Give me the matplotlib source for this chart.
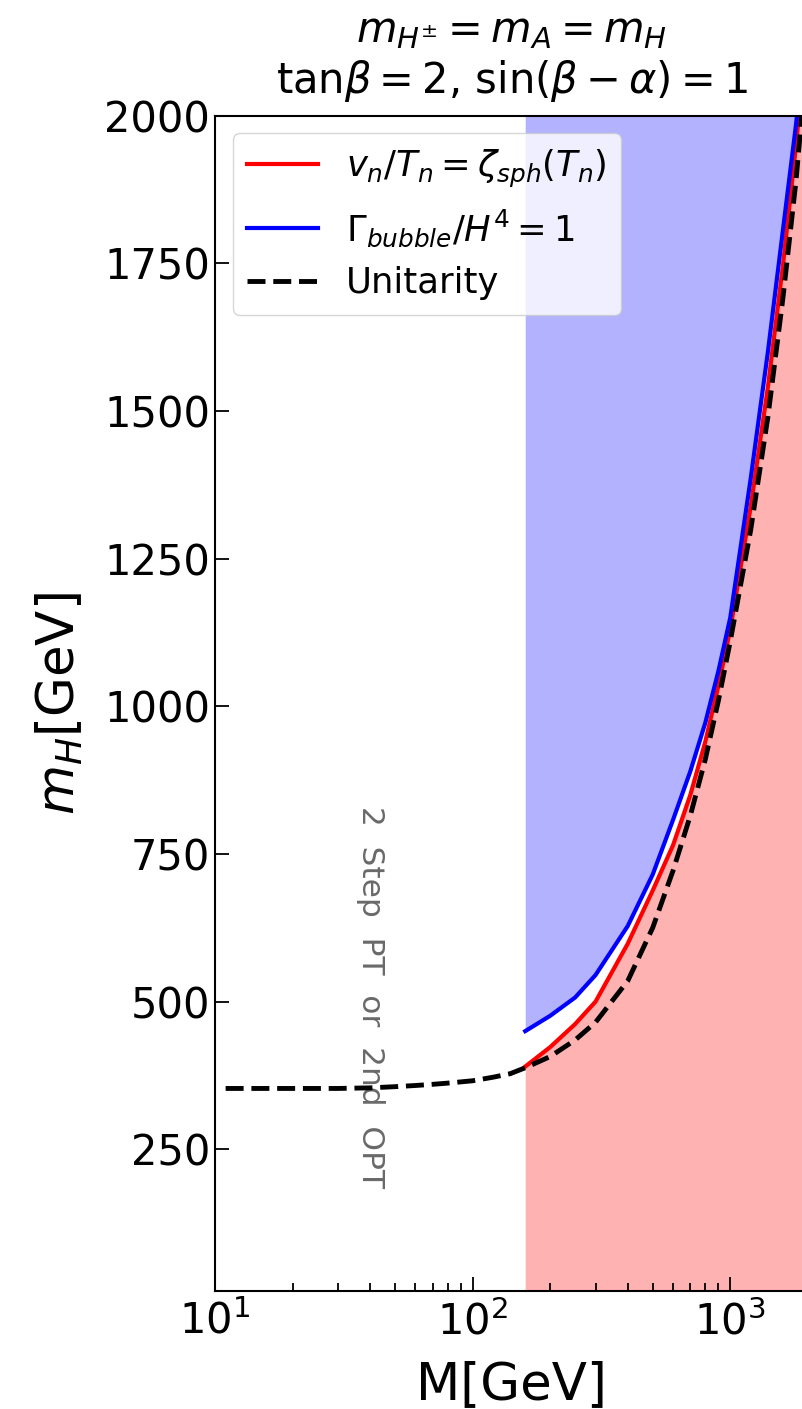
import numpy as np
import matplotlib.pyplot as plt

# M grid where the phase-transition scan was done
M_scan = [160, 200, 250, 300, 400, 500, 600, 700, 800, 900, 1000, 1200, 1400, 1600, 1800, 2000]
# m_H where v_n/T_n = zeta_sph(T_n)
mH_sph = [390, 423, 462, 500, 598, 688, 765, 850, 940, 1035, 1130, 1337, 1541, 1745, 1950, 2155]
# m_H where Gamma_bubble/H^4 = 1
mH_bubble = [450, 476, 507, 545, 628, 715, 808, 890, 972, 1060, 1150, 1385, 1600, 1805, 1985, 2170]

# unitarity bound
M_uni = [11, 20, 30, 40, 50, 60, 70, 80, 100, 120, 140, 160, 200, 250, 300, 400, 500, 600, 700, 800, 900, 1000, 1200, 1400, 1600, 1800, 2000]
mH_uni = [353, 353, 353, 354, 356, 358, 360, 362, 366, 372, 378, 388, 407, 435, 465, 535, 625, 722, 815, 910, 1010, 1110, 1298, 1490, 1690, 1890, 2115]

x_min, x_max = 10, 2000
y_min, y_max = 10, 2000

fig = plt.figure(figsize=(8.03, 14.09), dpi=100)
ax = fig.add_axes([0.2677, 0.0837, 1.006 - 0.2677, 0.918 - 0.0837])

ax.fill_between(M_scan, y_min - 10, mH_sph, color='red', alpha=0.3, linewidth=0)
ax.fill_between(M_scan, mH_bubble, y_max + 10, color='blue', alpha=0.3, linewidth=0)

ax.plot(M_scan, mH_sph, color='red', lw=3, label=r'$v_n/T_n = \zeta_{sph}(T_n)$')
ax.plot(M_scan, mH_bubble, color='blue', lw=3, label=r'$\Gamma_{bubble}/H^4 = 1$')
ax.plot(M_uni, mH_uni, 'k--', lw=3.5, label='Unitarity', zorder=4)

ax.text(40, 508, '2  Step  PT  or  2nd  OPT', rotation=270, ha='center', va='center',
        fontsize=22.5, color='dimgray', zorder=3)

ax.set_xscale('log')
ax.set_xlim(x_min, x_max)
ax.set_ylim(y_min, y_max)
ax.set_yticks([250, 500, 750, 1000, 1250, 1500, 1750, 2000])

ax.tick_params(which='both', direction='in', labelsize=30, width=1.3)
ax.tick_params(axis='x', which='both', pad=7)
ax.tick_params(which='major', length=10)
ax.tick_params(which='minor', length=6)
for s in ax.spines.values():
    s.set_linewidth(1.5)

ax.set_xlabel('M[GeV]', fontsize=37, labelpad=12)
ax.set_ylabel(r'$m_H$[GeV]', fontsize=37, labelpad=13)
ax.set_title('$m_{H^{\\pm}} = m_A = m_H$\ntan$\\beta = 2$, sin$(\\beta - \\alpha) = 1$',
             fontsize=30, pad=16)

ax.legend(loc='upper left', fontsize=25.5)

fig.savefig('out.png', dpi=100)
